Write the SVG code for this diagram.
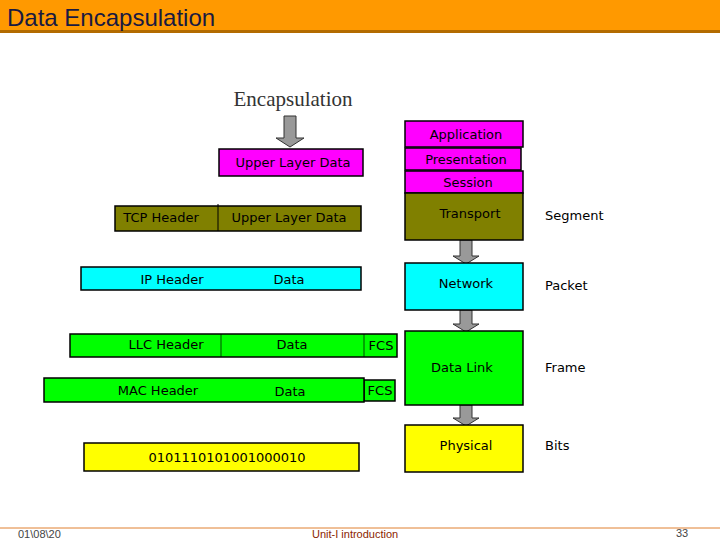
<svg xmlns="http://www.w3.org/2000/svg" width="720" height="540" viewBox="0 0 720 540">
<style>
text{font-family:"DejaVu Sans",sans-serif;font-size:13px;fill:#000}
.b{stroke:#000;stroke-width:1.5}
.g{fill:#999;stroke:#333;stroke-width:1}
.l{font-family:"Liberation Sans",Arial,sans-serif}
</style>
<rect width="720" height="540" fill="#fff"/>
<rect x="0" y="0" width="720" height="30" fill="#FF9900"/>
<rect x="0" y="30" width="720" height="3" fill="#B36B00"/>
<text class="l" x="7" y="26" style="font-size:24px;fill:#1a1a40">Data Encapsulation</text>
<text x="293" y="106" text-anchor="middle" style="font-family:'Liberation Serif',serif;font-size:21px;fill:#333">Encapsulation</text>
<g id="connectors">
<path class="g" d="M284,116h12v22h8l-14,9l-14,-9h8z"/>
<path class="g" d="M460,240h12v16h7l-13,8l-13,-8h7z"/>
<path class="g" d="M460,310h12v14h7l-13,8l-13,-8h7z"/>
<path class="g" d="M460,405h12v13h7l-13,8l-13,-8h7z"/>
</g>
<g id="upper"><rect class="b" x="219" y="149" width="144" height="27" fill="#FF00FF"/><text x="293" y="167" text-anchor="middle">Upper Layer Data</text></g>
<g id="tcp"><rect class="b" x="115" y="206" width="246" height="25" fill="#808000"/><line x1="218" y1="204" x2="218" y2="231" stroke="#000"/><text x="161" y="222" text-anchor="middle">TCP Header</text><text x="289" y="222" text-anchor="middle">Upper Layer Data</text></g>
<g id="ip"><rect class="b" x="81" y="267" width="280" height="23" fill="#00FFFF"/><text x="172" y="284" text-anchor="middle">IP Header</text><text x="289" y="284" text-anchor="middle">Data</text></g>
<g id="llc"><rect class="b" x="70" y="334" width="327" height="23" fill="#00FF00"/><line x1="221" y1="334" x2="221" y2="357" stroke="#000" stroke-width="0.7"/><line x1="364" y1="334" x2="364" y2="357" stroke="#000" stroke-width="0.7"/><text x="166" y="349" text-anchor="middle">LLC Header</text><text x="292" y="349" text-anchor="middle">Data</text><text x="381" y="350" text-anchor="middle">FCS</text></g>
<g id="mac"><rect class="b" x="364" y="380" width="31" height="21" fill="#00FF00"/><rect class="b" x="44" y="378" width="320" height="24" fill="#00FF00"/><text x="158" y="395" text-anchor="middle">MAC Header</text><text x="290" y="396" text-anchor="middle">Data</text><text x="380" y="395" text-anchor="middle">FCS</text></g>
<g id="bits"><rect class="b" x="84" y="443" width="275" height="28" fill="#FFFF00"/><text x="227" y="462" text-anchor="middle">0101110101001000010</text></g>
<g id="application"><rect class="b" x="405" y="121" width="118" height="26" fill="#FF00FF"/><text x="466" y="139" text-anchor="middle">Application</text></g>
<g id="presentation"><rect class="b" x="405" y="148" width="116" height="22" fill="#FF00FF"/><text x="466" y="164" text-anchor="middle">Presentation</text></g>
<g id="session"><rect class="b" x="405" y="171" width="118" height="22" fill="#FF00FF"/><text x="468" y="187" text-anchor="middle">Session</text></g>
<g id="transport"><rect class="b" x="405" y="193" width="118" height="47" fill="#808000"/><text x="470" y="218" text-anchor="middle">Transport</text><text x="545" y="220">Segment</text></g>
<g id="network"><rect class="b" x="405" y="263" width="118" height="47" fill="#00FFFF"/><text x="466" y="288" text-anchor="middle">Network</text><text x="545" y="290">Packet</text></g>
<g id="datalink"><rect class="b" x="405" y="331" width="118" height="74" fill="#00FF00"/><text x="462" y="372" text-anchor="middle">Data Link</text><text x="545" y="372">Frame</text></g>
<g id="physical"><rect class="b" x="405" y="425" width="118" height="47" fill="#FFFF00"/><text x="466" y="450" text-anchor="middle">Physical</text><text x="545" y="450">Bits</text></g>
<line x1="0" y1="528" x2="720" y2="528" stroke="#E08030" stroke-width="1"/>
<text class="l" x="18" y="538" style="font-size:11px;fill:#444">01\08\20</text>
<text class="l" x="312" y="538" style="font-size:11px;fill:#8B2500">Unit-I introduction</text>
<text class="l" x="676" y="537" style="font-size:11px;fill:#444">33</text>
</svg>
